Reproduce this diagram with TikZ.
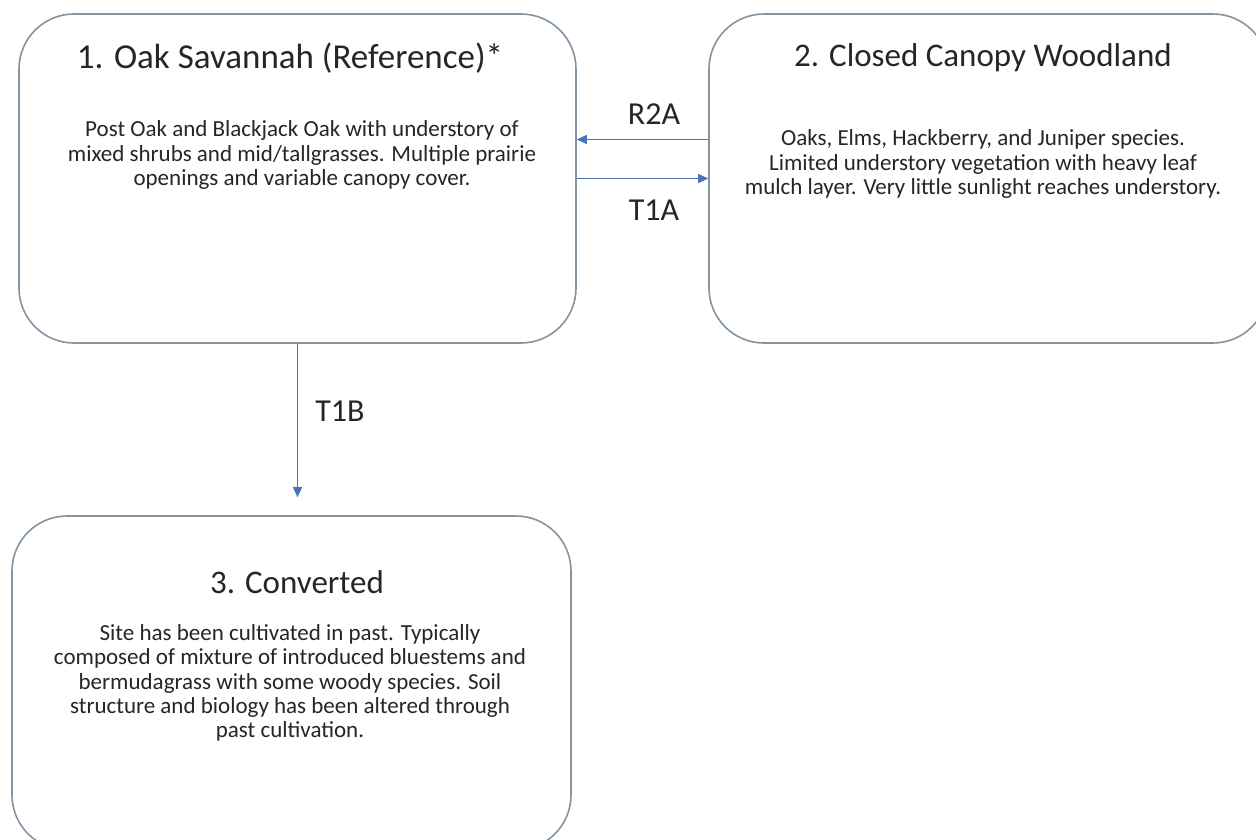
\documentclass[tikz,border=0pt]{standalone}
\usepackage{fontspec}
\setmainfont{Carlito}
\usetikzlibrary{arrows.meta}
\definecolor{boxline}{HTML}{8394A3}
\definecolor{arrblue}{HTML}{4A73B5}
\definecolor{txt}{HTML}{262626}
\tikzset{
  statebox/.style={draw=boxline, line width=1.6pt, rounded corners=55pt, fill=white},
  title/.style={text=txt, font=\fontsize{33}{40}\selectfont},
  body/.style={text=txt, align=center, font=\fontsize{23}{24.4}\selectfont},
  lbl/.style={text=txt, font=\fontsize{32}{38}\selectfont},
  arr/.style={draw=arrblue, line width=1.3pt, -{Triangle[length=10pt,width=9pt]}}
}
\begin{document}
\begin{tikzpicture}[x=1pt,y=-1pt]
\useasboundingbox (0,0) rectangle (1256,839);
\clip (0,0) rectangle (1256,839);
\fill[white] (0,0) rectangle (1256,839);
% boxes
\node[statebox, minimum width=557pt, minimum height=329pt] (b1) at (297.5,178.5) {};
\node[statebox, minimum width=559pt, minimum height=329pt] (b2) at (988.5,178.5) {};
\node[statebox, minimum width=559pt, minimum height=334pt] (b3) at (291.5,683) {};
% titles
\node[title, font=\fontsize{35}{42}\selectfont] (t1) at (290,58) {1. Oak Savannah (Reference)*};
\node[title] (t2) at (983,58) {2. Closed Canopy Woodland};
\node[title] (t3) at (297,582) {3. Converted};
% bodies
\node[body] (d1) at (302,155) {Post Oak and Blackjack Oak with understory of\\mixed shrubs and mid/tallgrasses. Multiple prairie\\openings and variable canopy cover.};
\node[body] (d2) at (983,164) {Oaks, Elms, Hackberry, and Juniper species.\\Limited understory vegetation with heavy leaf\\mulch layer. Very little sunlight reaches understory.};
\node[body] (d3) at (290,683) {Site has been cultivated in past. Typically\\composed of mixture of introduced bluestems and\\bermudagrass with some woody species. Soil\\structure and biology has been altered through\\past cultivation.};
% connectors
\draw[arr] ([yshift=39pt]b2.west) -- ([yshift=39pt]b1.east);
\draw[arr] (b1.east) -- (b2.west);
\draw[arr, shorten >=18pt] (b1.south) -- (b1.south |- b3.north);
% labels
\node[lbl] (r2a) at (654,114) {R2A};
\node[lbl] (t1a) at (654,210) {T1A};
\node[lbl] (t1b) at (340,411) {T1B};
\end{tikzpicture}
\end{document}
